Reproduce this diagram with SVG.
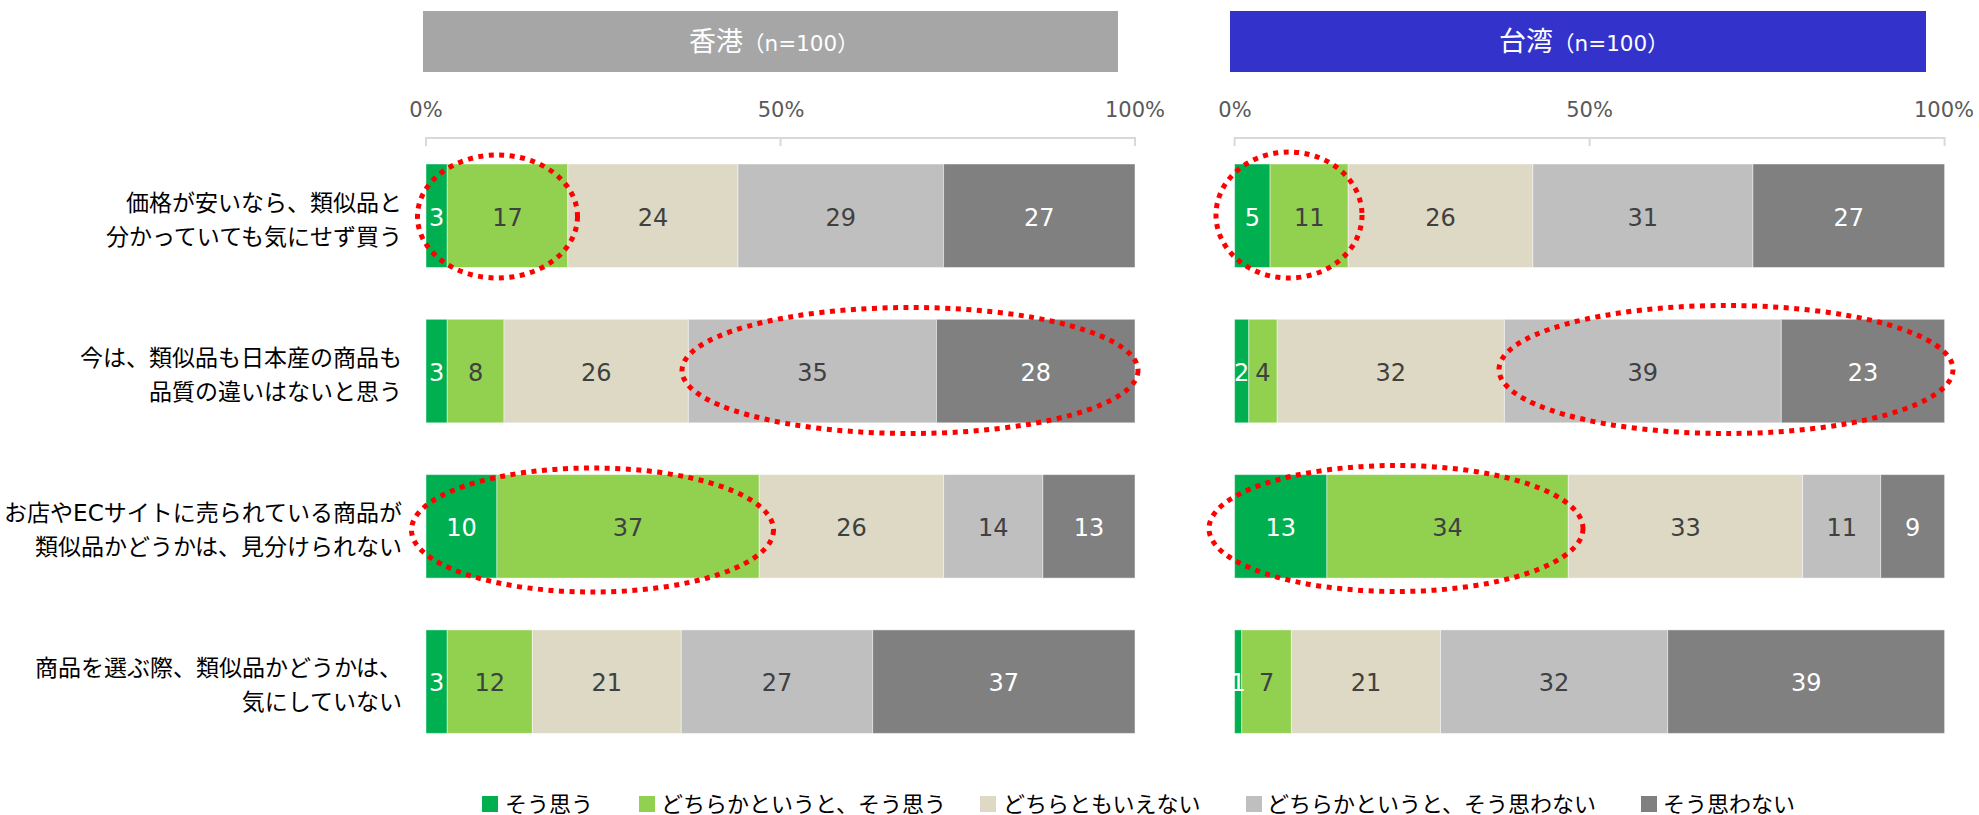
<svg xmlns="http://www.w3.org/2000/svg" width="1979" height="815" viewBox="0 0 1979 815">
<style>
.t{font-family:"DejaVu Sans","Noto Sans CJK JP",sans-serif}
.hd{fill:#FFFFFF;font-size:27px}
.hn{font-size:21.5px}
.ax{fill:#595959;font-size:21px;text-anchor:middle}
.rl{fill:#000000;font-size:23px;text-anchor:end}
.v{font-size:24px;text-anchor:middle}
.dk{fill:#404040}
.wh{fill:#FFFFFF}
.lg{fill:#000000;font-size:22px}
.axl{stroke:#D9D9D9;stroke-width:2;fill:none}
.s1{fill:#00B050}.s2{fill:#92D050}.s3{fill:#DDD9C4}.s4{fill:#BFBFBF}.s5{fill:#808080}
.seg rect{stroke:#FFFFFF;stroke-opacity:0.45;stroke-width:1}
.hl{fill:none;stroke:#FF0000;stroke-width:5;stroke-dasharray:5 5.5}
</style>

<g id="header-hk">
<rect x="423" y="11" width="695" height="61" fill="#A6A6A6"/>
<text class="t hd" x="689" y="51">香港<tspan class="hn">（n=100）</tspan></text>
</g>
<g id="header-tw">
<rect x="1230" y="11" width="696" height="61" fill="#3333CC"/>
<text class="t hd" x="1499" y="51">台湾<tspan class="hn">（n=100）</tspan></text>
</g>

<g id="axis-hk">
<text class="t ax" x="426" y="117">0%</text>
<text class="t ax" x="781" y="117">50%</text>
<text class="t ax" x="1135" y="117">100%</text>
<path class="axl" d="M426,146V138H1135V146M780.5,138V146"/>
</g>
<g id="axis-tw">
<text class="t ax" x="1235" y="117">0%</text>
<text class="t ax" x="1589.5" y="117">50%</text>
<text class="t ax" x="1944" y="117">100%</text>
<path class="axl" d="M1234.6,146V138H1944.6V146M1589.6,138V146"/>
</g>

<g id="row-labels">
<text class="t rl" x="402" y="210.5">価格が安いなら、類似品と</text>
<text class="t rl" x="402" y="244.5">分かっていても気にせず買う</text>
<text class="t rl" x="402" y="365.5">今は、類似品も日本産の商品も</text>
<text class="t rl" x="402" y="399.5">品質の違いはないと思う</text>
<text class="t rl" x="402" y="521">お店やECサイトに売られている商品が</text>
<text class="t rl" x="402" y="555">類似品かどうかは、見分けられない</text>
<text class="t rl" x="402" y="676">商品を選ぶ際、類似品かどうかは、</text>
<text class="t rl" x="402" y="710">気にしていない</text>
</g>

<g id="bars-hk" class="seg">
<g id="hk-row1">
<rect class="s1" x="426" y="164" width="21.27" height="103.5"/>
<rect class="s2" x="447.27" y="164" width="120.53" height="103.5"/>
<rect class="s3" x="567.8" y="164" width="170.16" height="103.5"/>
<rect class="s4" x="737.96" y="164" width="205.61" height="103.5"/>
<rect class="s5" x="943.57" y="164" width="191.43" height="103.5"/>
<text class="t v wh" x="436.6" y="225.5">3</text>
<text class="t v dk" x="507.5" y="225.5">17</text>
<text class="t v dk" x="652.9" y="225.5">24</text>
<text class="t v dk" x="840.8" y="225.5">29</text>
<text class="t v wh" x="1039.3" y="225.5">27</text>
</g>
<g id="hk-row2">
<rect class="s1" x="426" y="319.3" width="21.27" height="103.5"/>
<rect class="s2" x="447.27" y="319.3" width="56.72" height="103.5"/>
<rect class="s3" x="503.99" y="319.3" width="184.34" height="103.5"/>
<rect class="s4" x="688.33" y="319.3" width="248.15" height="103.5"/>
<rect class="s5" x="936.48" y="319.3" width="198.52" height="103.5"/>
<text class="t v wh" x="436.6" y="380.8">3</text>
<text class="t v dk" x="475.6" y="380.8">8</text>
<text class="t v dk" x="596.2" y="380.8">26</text>
<text class="t v dk" x="812.4" y="380.8">35</text>
<text class="t v wh" x="1035.7" y="380.8">28</text>
</g>
<g id="hk-row3">
<rect class="s1" x="426" y="474.6" width="70.9" height="103.5"/>
<rect class="s2" x="496.9" y="474.6" width="262.33" height="103.5"/>
<rect class="s3" x="759.23" y="474.6" width="184.34" height="103.5"/>
<rect class="s4" x="943.57" y="474.6" width="99.26" height="103.5"/>
<rect class="s5" x="1042.83" y="474.6" width="92.17" height="103.5"/>
<text class="t v wh" x="461.5" y="536.1">10</text>
<text class="t v dk" x="628.1" y="536.1">37</text>
<text class="t v dk" x="851.4" y="536.1">26</text>
<text class="t v dk" x="993.2" y="536.1">14</text>
<text class="t v wh" x="1088.9" y="536.1">13</text>
</g>
<g id="hk-row4">
<rect class="s1" x="426" y="629.9" width="21.27" height="103.5"/>
<rect class="s2" x="447.27" y="629.9" width="85.08" height="103.5"/>
<rect class="s3" x="532.35" y="629.9" width="148.89" height="103.5"/>
<rect class="s4" x="681.24" y="629.9" width="191.43" height="103.5"/>
<rect class="s5" x="872.67" y="629.9" width="262.33" height="103.5"/>
<text class="t v wh" x="436.6" y="691.4">3</text>
<text class="t v dk" x="489.8" y="691.4">12</text>
<text class="t v dk" x="606.8" y="691.4">21</text>
<text class="t v dk" x="777" y="691.4">27</text>
<text class="t v wh" x="1003.8" y="691.4">37</text>
</g>
</g>

<g id="bars-tw" class="seg">
<g id="tw-row1">
<rect class="s1" x="1234.6" y="164" width="35.5" height="103.5"/>
<rect class="s2" x="1270.1" y="164" width="78.1" height="103.5"/>
<rect class="s3" x="1348.2" y="164" width="184.6" height="103.5"/>
<rect class="s4" x="1532.8" y="164" width="220.1" height="103.5"/>
<rect class="s5" x="1752.9" y="164" width="191.7" height="103.5"/>
<text class="t v wh" x="1252.35" y="225.5">5</text>
<text class="t v dk" x="1309.15" y="225.5">11</text>
<text class="t v dk" x="1440.5" y="225.5">26</text>
<text class="t v dk" x="1642.85" y="225.5">31</text>
<text class="t v wh" x="1848.75" y="225.5">27</text>
</g>
<g id="tw-row2">
<rect class="s1" x="1234.6" y="319.3" width="14.2" height="103.5"/>
<rect class="s2" x="1248.8" y="319.3" width="28.4" height="103.5"/>
<rect class="s3" x="1277.2" y="319.3" width="227.2" height="103.5"/>
<rect class="s4" x="1504.4" y="319.3" width="276.9" height="103.5"/>
<rect class="s5" x="1781.3" y="319.3" width="163.3" height="103.5"/>
<text class="t v wh" x="1241.7" y="380.8">2</text>
<text class="t v dk" x="1263" y="380.8">4</text>
<text class="t v dk" x="1390.8" y="380.8">32</text>
<text class="t v dk" x="1642.85" y="380.8">39</text>
<text class="t v wh" x="1862.95" y="380.8">23</text>
</g>
<g id="tw-row3">
<rect class="s1" x="1234.6" y="474.6" width="92.3" height="103.5"/>
<rect class="s2" x="1326.9" y="474.6" width="241.4" height="103.5"/>
<rect class="s3" x="1568.3" y="474.6" width="234.3" height="103.5"/>
<rect class="s4" x="1802.6" y="474.6" width="78.1" height="103.5"/>
<rect class="s5" x="1880.7" y="474.6" width="63.9" height="103.5"/>
<text class="t v wh" x="1280.75" y="536.1">13</text>
<text class="t v dk" x="1447.6" y="536.1">34</text>
<text class="t v dk" x="1685.45" y="536.1">33</text>
<text class="t v dk" x="1841.65" y="536.1">11</text>
<text class="t v wh" x="1912.65" y="536.1">9</text>
</g>
<g id="tw-row4">
<rect class="s1" x="1234.6" y="629.9" width="7.1" height="103.5"/>
<rect class="s2" x="1241.7" y="629.9" width="49.7" height="103.5"/>
<rect class="s3" x="1291.4" y="629.9" width="149.1" height="103.5"/>
<rect class="s4" x="1440.5" y="629.9" width="227.2" height="103.5"/>
<rect class="s5" x="1667.7" y="629.9" width="276.9" height="103.5"/>
<text class="t v wh" x="1238.15" y="691.4">1</text>
<text class="t v dk" x="1266.55" y="691.4">7</text>
<text class="t v dk" x="1365.95" y="691.4">21</text>
<text class="t v dk" x="1554.1" y="691.4">32</text>
<text class="t v wh" x="1806.15" y="691.4">39</text>
</g>
</g>

<g id="highlights">
<ellipse class="hl" cx="497.5" cy="216.5" rx="80" ry="61.5"/>
<ellipse class="hl" cx="910" cy="370.5" rx="228" ry="63"/>
<ellipse class="hl" cx="592.5" cy="530" rx="181" ry="62"/>
<ellipse class="hl" cx="1289" cy="215" rx="73" ry="63"/>
<ellipse class="hl" cx="1726" cy="369.5" rx="227" ry="64"/>
<ellipse class="hl" cx="1396" cy="528.5" rx="187" ry="63"/>
</g>

<g id="legend">
<rect class="s1" x="482" y="796" width="16" height="16"/>
<text class="t lg" x="505" y="812">そう思う</text>
<rect class="s2" x="639" y="796" width="16" height="16"/>
<text class="t lg" x="661" y="812">どちらかというと、そう思う</text>
<rect class="s3" x="980" y="796" width="16" height="16"/>
<text class="t lg" x="1003" y="812">どちらともいえない</text>
<rect class="s4" x="1246" y="796" width="16" height="16"/>
<text class="t lg" x="1267" y="812">どちらかというと、そう思わない</text>
<rect class="s5" x="1641" y="796" width="16" height="16"/>
<text class="t lg" x="1663" y="812">そう思わない</text>
</g>
</svg>
